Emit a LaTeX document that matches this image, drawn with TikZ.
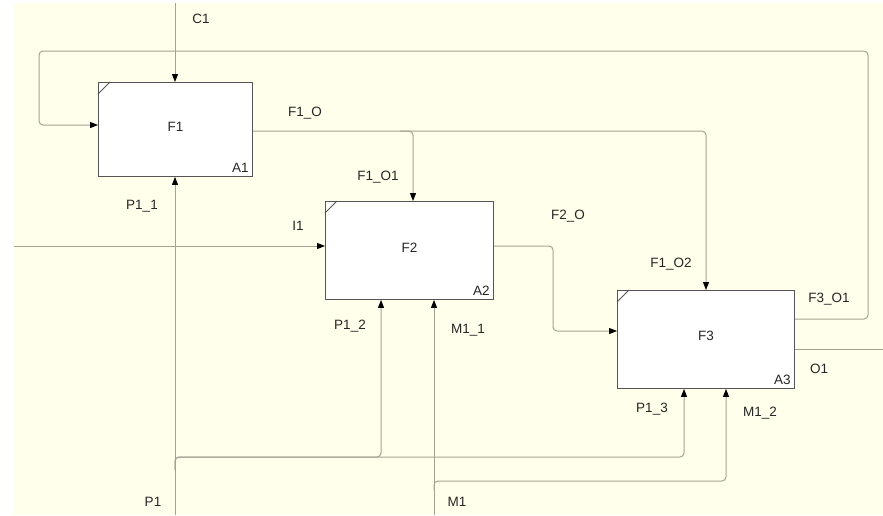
\documentclass[tikz,border=0pt]{standalone}
\usepackage{fontspec}
\setmainfont{Liberation Sans}
\usetikzlibrary{arrows.meta}
\definecolor{bgy}{HTML}{FFFFEB}
\definecolor{connc}{HTML}{A3A394}
\definecolor{boxc}{HTML}{555555}
\definecolor{txtc}{HTML}{262626}
\tikzset{
  fn/.style={draw=boxc,fill=white,line width=0.9pt,inner sep=0pt,anchor=north west},
  conn/.style={draw=connc,line width=1pt,rounded corners=4pt},
  arr/.style={conn,-{Triangle[length=8pt,width=6pt,color=black]}},
  lbl/.style={text=txtc,font=\fontsize{13.5}{15}\selectfont,inner sep=0pt},
  cornermark/.style={draw=boxc,line width=0.8pt}
}
\begin{document}
\begin{tikzpicture}[x=1pt,y=-1pt]
\fill[white] (0,0) rectangle (883,515);
\fill[bgy] (14,3) rectangle (883,515);
\useasboundingbox (0,0) rectangle (883,515);

% function boxes
\node[fn,minimum width=154pt,minimum height=94pt] (f1) at (98,82) {};
\node[fn,minimum width=168pt,minimum height=98pt] (f2) at (325,201) {};
\node[fn,minimum width=177pt,minimum height=98pt] (f3) at (617,290) {};
\draw[cornermark] ([yshift=-12pt]f1.north west) -- ([xshift=12pt]f1.north west);
\draw[cornermark] ([yshift=-12pt]f2.north west) -- ([xshift=12pt]f2.north west);
\draw[cornermark] ([yshift=-12pt]f3.north west) -- ([xshift=12pt]f3.north west);

\node[lbl] (tf1) at ([yshift=3pt]f1.center) {F1};
\node[lbl] (tf2) at ([yshift=3pt]f2.center) {F2};
\node[lbl] (tf3) at ([yshift=4pt]f3.center) {F3};
\node[lbl,anchor=south east] (ta1) at ([xshift=-4pt,yshift=4pt]f1.south east) {A1};
\node[lbl,anchor=south east] (ta2) at ([xshift=-4pt,yshift=4pt]f2.south east) {A2};
\node[lbl,anchor=south east] (ta3) at ([xshift=-4pt,yshift=4pt]f3.south east) {A3};

% helper coordinates
\coordinate (ctop) at (175,3);
\coordinate (cbot1) at (175,515);
\coordinate (cbot2) at (434,515);
\coordinate (cleft) at (14,246);
\coordinate (cright) at (883,349);
\coordinate (y131) at (0,131);
\coordinate (y125) at (0,125);
\coordinate (y246) at (0,246);
\coordinate (y319) at (0,319);
\coordinate (y331) at (0,331);
\coordinate (y349) at (0,349);
\coordinate (x175) at (175,0);
\coordinate (x381) at (381,0);
\coordinate (x413) at (413,0);
\coordinate (x434) at (434,0);
\coordinate (x684) at (684,0);
\coordinate (x706) at (706,0);
\coordinate (x726) at (726,0);

% C1
\draw[arr] (ctop) -- (f1.north -| x175);
% feedback F3_O1
\draw[arr] (f3.east |- y319) -- (868,319) -- (868,51) -- (39,51) -- (39,125) -- (f1.west |- y125);
% F1_O
\draw[arr] (f1.east |- y131) -- (706,131) -- (f3.north -| x706);
\draw[arr] (400,131) -- (413,131) -- (f2.north -| x413);
% F2_O
\draw[arr] (f2.east |- y246) -- (553,246) -- (553,331) -- (f3.west |- y331);
% I1
\draw[arr] (cleft) -- (f2.west |- y246);
% O1
\draw[conn] (f3.east |- y349) -- (cright);
% P1
\draw[arr] (cbot1) -- (f1.south -| x175);
\draw[arr] (175,470) -- (175,457) -- (381,457) -- (f2.south -| x381);
\draw[arr] (175,470) -- (175,457) -- (684,457) -- (f3.south -| x684);
% M1
\draw[arr] (cbot2) -- (f2.south -| x434);
\draw[arr] (434,490) -- (434,481) -- (726,481) -- (f3.south -| x726);

% labels
\node[lbl] (lc1) at (201,19) {C1};
\node[lbl] (lf1o) at (305,113) {F1\_O};
\node[lbl] (lf1o1) at (378,177) {F1\_O1};
\node[lbl] (lp11) at (142,206) {P1\_1};
\node[lbl] (li1) at (298,226) {I1};
\node[lbl] (lf2o) at (568,216) {F2\_O};
\node[lbl] (lf1o2) at (671,264) {F1\_O2};
\node[lbl] (lf3o1) at (829,299) {F3\_O1};
\node[lbl] (lp12) at (350,326) {P1\_2};
\node[lbl] (lm11) at (468,330) {M1\_1};
\node[lbl] (lo1) at (819,369) {O1};
\node[lbl] (lp13) at (652,409) {P1\_3};
\node[lbl] (lm12) at (760,413) {M1\_2};
\node[lbl] (lp1) at (153,502) {P1};
\node[lbl] (lm1) at (457,502) {M1};
\end{tikzpicture}
\end{document}
